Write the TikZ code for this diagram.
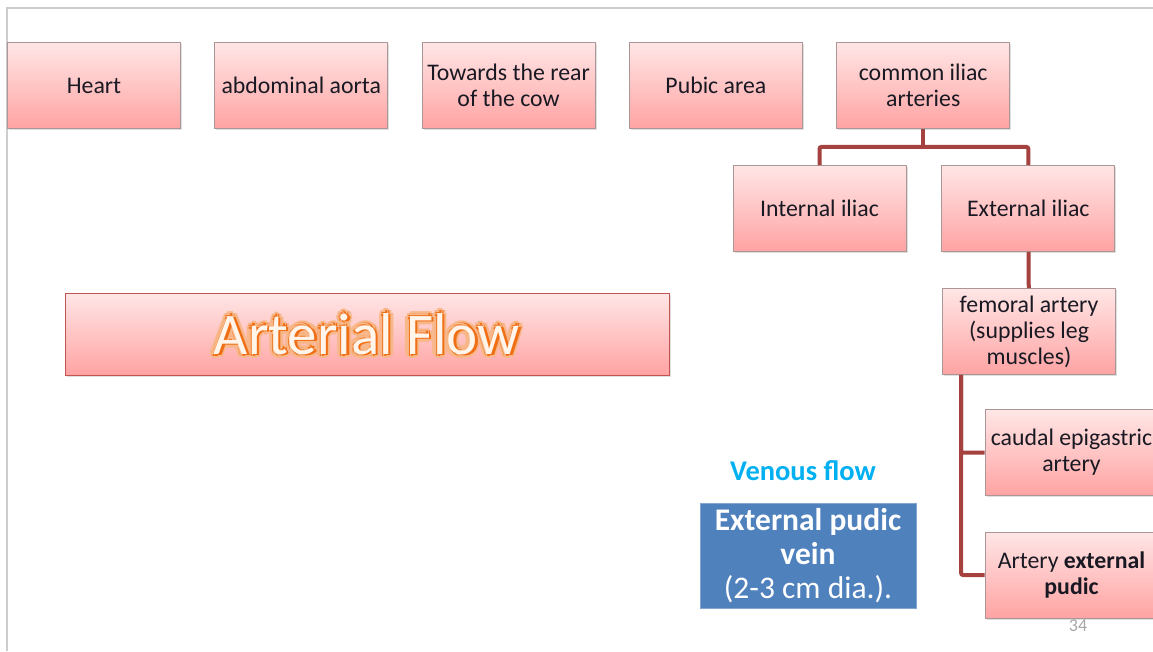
\documentclass[tikz,border=0pt]{standalone}
\usepackage{fontspec}
\setmainfont{Carlito}
\usetikzlibrary{positioning, shadows}
\definecolor{boxtop}{RGB}{255,230,230}
\definecolor{boxbottom}{RGB}{255,163,163}
\definecolor{boxedge}{RGB}{170,150,150}
\definecolor{linkred}{RGB}{165,65,62}
\definecolor{veinblue}{RGB}{79,129,189}
\definecolor{venouscyan}{RGB}{0,176,240}
\definecolor{flowedge}{RGB}{196,84,80}
\definecolor{floworange}{RGB}{240,110,20}
\definecolor{slidegray}{RGB}{205,205,205}
\definecolor{labeltext}{RGB}{25,25,35}

\begin{document}
\begin{tikzpicture}[x=1pt, y=-1pt, node distance=33.5pt,
    every node/.style={font=\fontsize{23.8}{26}\selectfont, text=labeltext},
    box/.style={draw=boxedge, line width=0.8pt, top color=boxtop, bottom color=boxbottom,
        minimum width=173pt, minimum height=86pt, align=center, inner sep=1pt,
        drop shadow={shadow xshift=1.5pt, shadow yshift=-1.5pt, opacity=0.25}},
    title/.style={font=\fontsize{59}{64}\selectfont},
    link/.style={draw=linkred, line width=4pt, rounded corners=2pt}]
    \useasboundingbox (0,0) rectangle (1153,651);
    \clip (0,0) rectangle (1153,651);

    % slide frame
    \draw[slidegray, line width=1.5pt] (7,651) -- (7,8) -- (1153,8);

    % Top row
    \node (heart) [box] at (94,85.5) {Heart};
    \node (aorta) [box, right=of heart] {abdominal aorta};
    \node (rear) [box, right=of aorta] {Towards the rear\\of the cow};
    \node (pubic) [box, right=of rear] {Pubic area};
    \node (common) [box, right=of pubic] {common iliac\\arteries};

    % Branches
    \node (internal) [box] at (819.5,208.5) {Internal iliac};
    \node (external) [box, right=35pt of internal] {External iliac};
    \node (femoral) [box] at (1029,331.5) {femoral artery\\(supplies leg\\muscles)};
    \node (caudal) [box] at (1071.5,452.5) {caudal epigastric\\artery};
    \node (pudic) [box] at (1071.5,575) {Artery \textbf{external}\\\textbf{pudic}};

    % Title with glow
    \node (flow) [box, draw=flowedge, minimum width=604pt, minimum height=82pt] at (367,334) {};
    \foreach \a [count=\i] in {0,45,...,315} {
        \node (glowout\i) [title, text=floworange!50] at ([shift={(\a:4.5pt)}]flow.center) {Arterial Flow};
        \node (glowin\i) [title, text=floworange] at ([shift={(\a+22.5:2.5pt)}]flow.center) {Arterial Flow};
    }
    \node (heading) [title, text=white!92!orange] at (flow.center) {Arterial Flow};

    % Venous side
    \node (venous) [text=venouscyan, font=\bfseries\fontsize{28.5}{30}\selectfont] at (803,471) {Venous flow};
    \node (vein) [fill=veinblue, draw=veinblue!70!white, minimum width=216pt, minimum height=105pt,
        inner sep=0pt, text=white, align=center, font=\fontsize{31.5}{34}\selectfont] at (808,555.5)
        {\textbf{External pudic}\\\textbf{vein}\\(2-3 cm dia.).};

    \node (page) [text=gray!70, font=\fontsize{18}{18}\selectfont] at (1078,626) {34};

    % Connectors
    \draw[link] (common.south) -- ++(0,18) coordinate (split);
    \draw[link] (internal.north) |- (split) -| (external.north);
    \draw[link] (external) -- (femoral);
    \draw[link] ([xshift=19pt]femoral.south west) |- (caudal.west);
    \draw[link] ([xshift=19pt]femoral.south west) |- (pudic.west);
\end{tikzpicture}
\end{document}
